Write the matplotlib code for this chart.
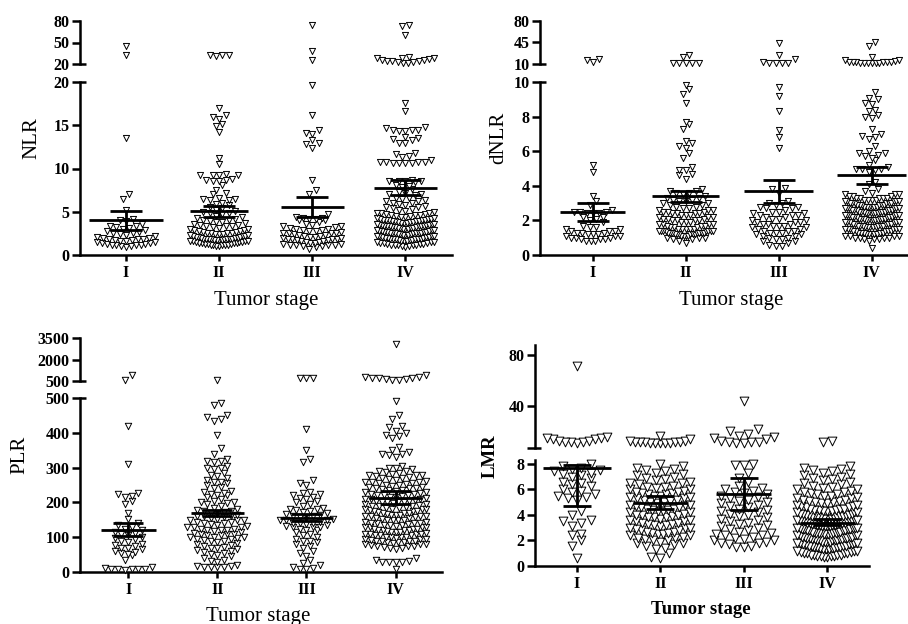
import matplotlib
matplotlib.use('Agg')
import matplotlib.pyplot as plt
import numpy as np

W, H = 908, 624
plt.rcParams['font.family'] = ['Liberation Serif', 'DejaVu Serif']

stages = ['I', 'II', 'III', 'IV']

# ---------------- NLR ----------------
nlr_I = [45, 32, 13.5, 7.0, 6.5, 5.2, 4.2, 4.0, 3.9, 3.6, 3.4, 3.3, 3.2, 3.1, 3.0, 2.9, 2.8, 2.7,
         2.6, 2.5, 2.4, 2.3, 2.2, 2.1, 2.0, 2.0, 1.9, 1.8, 1.8, 1.7, 1.7, 1.6, 1.6, 1.5, 1.5, 1.4,
         1.4, 1.3, 1.3, 1.2, 1.2, 1.1, 1.1, 1.0, 1.0, 0.9]
nlr_II = [33, 32, 32, 31,
          17.0, 16.2, 15.9, 15.7, 15.1, 14.9, 14.2, 11.2, 10.5, 9.4, 9.3, 9.3, 9.2, 9.2, 8.8, 8.7,
          8.7, 8.6, 8.6, 8.1, 7.5, 7.2, 7.1, 6.6, 6.5, 6.5, 6.4, 6.4, 6.0, 5.9, 5.8, 5.6, 5.4, 5.2,
          5.1, 5.0, 4.9, 4.8,
          4.7, 4.5, 4.4, 4.3, 4.2, 4.1, 4.0, 3.9, 3.8, 3.8, 3.7, 3.6, 3.5, 3.5, 3.4, 3.3, 3.3, 3.2,
          3.1, 3.0, 3.0, 2.9, 2.9, 2.8, 2.8, 2.7, 2.7, 2.6, 2.6, 2.5, 2.5, 2.4, 2.4, 2.4, 2.3, 2.3,
          2.2, 2.2, 2.2, 2.1, 2.1, 2.1, 2.0, 2.0, 2.0, 1.9, 1.9, 1.9, 1.9, 1.8, 1.8, 1.8, 1.8, 1.7,
          1.7, 1.7, 1.7, 1.6, 1.6, 1.6, 1.6, 1.5, 1.5, 1.5, 1.4, 1.4, 1.4, 1.4, 1.3, 1.3, 1.3, 1.2,
          1.2, 1.2, 1.1, 1.1, 1.0, 1.0]
nlr_III = [75, 38, 25,
           19.7, 16.2, 14.5, 14.1, 14.0, 13.3, 13.0, 12.8, 12.4, 8.7, 7.5, 7.1,
           4.7, 4.4, 4.3, 4.3, 4.2, 4.2, 4.1, 4.0, 3.8, 3.6, 3.5, 3.4, 3.3, 3.2, 3.1, 3.0, 3.0, 2.9,
           2.9, 2.8, 2.8, 2.7, 2.6, 2.6, 2.5, 2.5, 2.4, 2.3, 2.3, 2.2, 2.2, 2.1, 2.1, 2.0, 2.0, 1.9,
           1.9, 1.8, 1.8, 1.7, 1.7, 1.6, 1.6, 1.5, 1.5, 1.4, 1.4, 1.3, 1.3, 1.2, 1.2, 1.1, 1.1, 1.0,
           1.0, 0.9, 0.7]
nlr_IV = [75, 73, 61, 30, 29, 28.5, 28, 27, 26, 25, 24.5, 24, 23.5, 23, 22.5, 22, 21.5,
          17.6, 16.7, 14.8, 14.7, 14.5, 14.4, 14.4, 14.3, 14.3, 13.6, 13.5, 13.4, 13.3, 13.0, 12.9,
          11.8, 11.7, 11.5, 11.3, 11.0, 10.8, 10.7, 10.7, 10.7, 10.6, 10.6, 10.6, 10.6, 8.7, 8.6,
          8.6, 8.5, 8.5, 8.4, 8.1, 8.0, 7.9, 7.6, 7.3, 7.2, 7.1, 7.0, 6.9, 6.6, 6.6, 6.5, 6.4, 6.3,
          6.2, 6.0, 6.0, 5.9, 5.8, 5.7, 5.6, 5.5, 5.4, 5.3, 5.2, 5.1,
          5.0, 4.9, 4.8, 4.8, 4.7, 4.7, 4.6, 4.6, 4.5, 4.5, 4.4, 4.4, 4.3, 4.3, 4.2, 4.2, 4.1, 4.1,
          4.0, 4.0, 4.0, 3.9, 3.9, 3.9, 3.8, 3.8, 3.8, 3.7, 3.7, 3.7, 3.6, 3.6, 3.6, 3.5, 3.5, 3.5,
          3.4, 3.4, 3.4, 3.3, 3.3, 3.3, 3.2, 3.2, 3.2, 3.1, 3.1, 3.1, 3.0, 3.0, 3.0, 2.9, 2.9, 2.9,
          2.8, 2.8, 2.8, 2.7, 2.7, 2.7, 2.6, 2.6, 2.6, 2.5, 2.5, 2.5, 2.4, 2.4, 2.4, 2.3, 2.3, 2.3,
          2.2, 2.2, 2.2, 2.1, 2.1, 2.1, 2.0, 2.0, 2.0, 1.9, 1.9, 1.9, 1.8, 1.8, 1.8, 1.7, 1.7, 1.7,
          1.6, 1.6, 1.6, 1.5, 1.5, 1.5, 1.4, 1.4, 1.4, 1.3, 1.3, 1.3, 1.2, 1.2, 1.2, 1.1, 1.1, 1.0,
          1.0, 0.9, 2.5, 2.7, 3.1, 3.5, 3.9, 4.2, 4.6, 2.2]
nlr_mean = [4.0, 5.05, 5.55, 7.8]
nlr_lo = [2.9, 4.4, 4.35, 6.9]
nlr_hi = [5.1, 5.65, 6.7, 8.65]

# ---------------- dNLR ----------------
dnlr_I = [18, 16, 13,
          5.2, 4.8, 3.4, 3.1, 2.9, 2.6, 2.5, 2.5, 2.5, 2.4, 2.4, 2.4, 2.2, 2.2, 2.1, 2.0, 1.9, 1.7,
          1.6, 1.6, 1.5, 1.5, 1.4, 1.4, 1.4, 1.3, 1.3, 1.3, 1.2, 1.2, 1.2, 1.1, 1.1, 1.1, 1.0, 1.0,
          1.0, 0.9, 0.9, 0.9, 0.8, 0.8, 0.8]
dnlr_II = [24, 21, 12, 12, 11, 11, 11,
           9.8, 9.6, 9.3, 8.8, 7.7, 7.6, 7.3, 6.6, 6.5, 6.3, 6.2, 5.9, 5.6, 5.1, 4.9, 4.9, 4.7, 4.6,
           4.4, 3.8, 3.7, 3.7, 3.6, 3.6, 3.5,
           3.4, 3.3, 3.3, 3.2, 3.2, 3.1, 3.1, 3.0, 3.0, 2.9, 2.9, 2.8, 2.8, 2.7, 2.7, 2.6, 2.6, 2.6,
           2.5, 2.5, 2.5, 2.4, 2.4, 2.4, 2.3, 2.3, 2.3, 2.2, 2.2, 2.2, 2.1, 2.1, 2.1, 2.0, 2.0, 2.0,
           1.9, 1.9, 1.9, 1.8, 1.8, 1.8, 1.7, 1.7, 1.7, 1.6, 1.6, 1.6, 1.5, 1.5, 1.5, 1.5, 1.4, 1.4,
           1.4, 1.4, 1.4, 1.4, 1.3, 1.3, 1.3, 1.3, 1.3, 1.3, 1.2, 1.2, 1.2, 1.2, 1.2, 1.1, 1.1, 1.1,
           1.1, 1.0, 1.0, 1.0, 0.9, 0.9, 0.8, 0.7, 1.4, 1.4, 1.3, 1.5, 2.0, 2.4, 1.8, 1.2]
dnlr_III = [44, 24, 18, 13, 12, 12, 11, 11,
            9.7, 9.2, 8.3, 7.2, 6.8, 6.2, 3.9, 3.8, 3.6, 3.1, 3.0, 3.0,
            2.9, 2.8, 2.8, 2.7, 2.7, 2.6, 2.5, 2.5, 2.4, 2.4, 2.3, 2.3, 2.2, 2.2, 2.1, 2.1, 2.0,
            2.0, 1.9, 1.9, 1.8, 1.8, 1.8, 1.7, 1.7, 1.7, 1.6, 1.6, 1.5, 1.5, 1.4, 1.4, 1.3, 1.3,
            1.3, 1.2, 1.2, 1.1, 1.1, 1.0, 1.0, 0.9, 0.9, 0.8, 0.8, 0.7, 0.6, 0.5, 0.5, 1.9, 2.3, 1.4]
dnlr_IV = [46, 39, 22, 17, 16, 15, 14, 14, 13, 13, 13, 13, 12, 12, 12, 12, 11, 11,
           9.4, 9.1, 9.0, 8.8, 8.7, 8.4, 8.3, 8.1, 8.0, 7.9, 7.3, 7.0, 6.9, 6.8, 6.7, 6.3, 6.0,
           5.9, 5.9, 5.8, 5.7, 5.6, 5.5, 5.2, 5.1, 5.0, 5.0, 5.0, 4.9, 4.8, 4.2, 4.1, 3.8, 3.7, 3.6,
           3.5, 3.5, 3.4, 3.4, 3.4, 3.3, 3.3, 3.3, 3.2, 3.2, 3.2, 3.1, 3.1, 3.1, 3.0, 3.0, 3.0, 3.0,
           2.9, 2.9, 2.9, 2.9, 2.8, 2.8, 2.8, 2.8, 2.7, 2.7, 2.7, 2.7, 2.6, 2.6, 2.6, 2.6, 2.5, 2.5,
           2.5, 2.5, 2.4, 2.4, 2.4, 2.4, 2.3, 2.3, 2.3, 2.3, 2.2, 2.2, 2.2, 2.2, 2.1, 2.1, 2.1, 2.1,
           2.0, 2.0, 2.0, 2.0, 1.9, 1.9, 1.9, 1.9, 1.8, 1.8, 1.8, 1.8, 1.7, 1.7, 1.7, 1.7, 1.6, 1.6,
           1.6, 1.6, 1.5, 1.5, 1.5, 1.5, 1.4, 1.4, 1.4, 1.4, 1.3, 1.3, 1.3, 1.3, 1.2, 1.2, 1.2, 1.2,
           1.1, 1.1, 1.1, 1.1, 1.0, 1.0, 1.0, 1.0, 0.9, 0.9, 0.9, 0.8, 0.4, 2.0, 2.2, 2.4, 2.6, 2.8,
           3.0, 3.2, 1.5, 1.7, 1.9, 2.1, 2.3, 2.5, 2.7, 2.9, 3.1, 3.3, 1.2, 1.4, 1.6, 1.8, 2.0, 2.2,
           2.4, 2.6, 2.8, 3.0, 1.3, 1.5, 1.7, 1.9, 2.1, 2.3, 2.5, 2.7, 2.9, 3.1, 3.3, 3.5]
dnlr_mean = [2.48, 3.42, 3.72, 4.6]
dnlr_lo = [1.96, 3.04, 3.03, 4.13]
dnlr_hi = [2.98, 3.72, 4.36, 5.08]

# ---------------- PLR ----------------
plr_I = [900, 560,
         420, 310, 228, 225, 218, 215, 205, 195, 170, 152, 140, 135, 130, 125, 120, 115, 112, 108,
         105, 100, 98, 95, 90, 85, 80, 78, 75, 70, 68, 65, 60, 57, 55, 52, 50, 35, 15, 12, 10, 9,
         9, 8, 8, 7]
plr_II = [550,
          485, 480, 450, 445, 440, 435, 395, 355, 340, 325, 320, 318, 315, 305, 300, 298, 295, 285,
          280, 275, 270, 265, 260, 258, 255, 250, 245, 240, 232, 230, 228, 225, 222, 220, 215, 210,
          205, 200, 198, 195, 190, 185, 180, 178, 175, 172, 170, 168, 165, 162, 160, 158, 155, 152,
          150, 148, 145, 142, 140, 138, 135, 132, 130, 128, 125, 122, 120, 118, 115, 112, 110, 108,
          105, 102, 100, 98, 95, 92, 90, 88, 85, 82, 80, 78, 75, 72, 70, 68, 65, 62, 60, 58, 55, 52,
          50, 45, 40, 35, 32, 30, 20, 18, 16, 15, 15, 14, 15, 150, 125, 110, 105, 130, 160, 100,
          175, 145, 120, 95, 200]
plr_III = [700, 690, 700,
           410, 350, 325, 315, 265, 255, 250, 230, 228, 225, 220, 215, 212, 210, 205, 200, 195, 190,
           185, 182, 180, 178, 175, 172, 170, 168, 165, 162, 160, 158, 155, 152, 150, 148, 145, 142,
           140, 138, 135, 132, 130, 128, 125, 122, 120, 115, 110, 105, 100, 95, 90, 88, 85, 80, 75,
           70, 60, 55, 45, 35, 25, 20, 15, 12, 10, 8, 150, 140, 130]
plr_IV = [3100, 950, 760, 720, 680, 640, 600, 600, 620, 700, 780,
          490, 450, 440, 420, 418, 405, 400, 395, 390, 385, 360, 350, 345, 340, 338, 335, 330, 305,
          300, 295, 290, 288, 285, 282, 280, 278, 275, 272, 270, 268, 265, 262, 260, 258, 255, 252,
          250, 248, 245, 242, 240, 238, 235, 232, 230, 228, 225, 222, 220, 218, 215, 212, 210, 208,
          205, 202, 200, 198, 195, 192, 190, 188, 185, 182, 180, 178, 175, 172, 170, 168, 165, 162,
          160, 158, 155, 152, 150, 148, 145, 142, 140, 138, 135, 132, 130, 128, 125, 122, 120, 118,
          115, 112, 110, 108, 105, 102, 100, 98, 95, 92, 90, 88, 85, 82, 80, 78, 75, 72, 70, 68,
          65, 140, 130, 120, 110, 100, 90, 80, 150, 160, 170, 180, 190, 200, 210, 220, 230, 240,
          250, 260, 135, 125, 115, 105, 95, 85, 75, 145, 155, 165, 175, 185, 195, 205, 215, 225,
          235, 245, 255, 270, 280, 290, 300, 100, 110, 120, 130, 80, 90, 75, 40, 35, 32, 30, 30,
          28, 30, 8, 140, 125, 105, 95, 85, 150, 160, 170, 180, 115, 135, 200, 210, 190, 175, 165]
plr_mean = [122, 170, 156, 214]
plr_lo = [103, 161, 146, 196]
plr_hi = [142, 178, 167, 234]

# ---------------- LMR ----------------
lmr_I = [72, 16, 15, 15, 14, 14, 13, 13, 12, 12, 12, 11,
         8.0, 7.8, 7.7, 7.6, 7.4, 7.3, 7.2, 7.0, 6.9, 6.6, 6.5, 6.4, 6.3, 6.0, 5.9, 5.8, 5.6, 5.5,
         5.4, 5.3, 5.2, 4.3, 4.0, 3.6, 3.5, 3.4, 3.1, 2.5, 2.4, 2.0, 1.6, 0.6, 7.5, 7.1]
lmr_II = [17, 14, 13, 13, 12, 12, 12, 12, 12, 11, 11, 11, 11, 11,
          8.0, 7.8, 7.7, 7.6, 7.5, 7.4, 7.3, 7.2, 7.1, 7.0, 6.9, 6.8, 6.7, 6.6, 6.5, 6.4, 6.3, 6.2,
          6.1, 6.0, 6.0, 5.9, 5.8, 5.8, 5.7, 5.6, 5.6, 5.5, 5.4, 5.4, 5.3, 5.2, 5.2, 5.1, 5.0, 5.0,
          4.9, 4.8, 4.8, 4.7, 4.6, 4.6, 4.5, 4.4, 4.4, 4.3, 4.2, 4.2, 4.1, 4.0, 4.0, 3.9, 3.8, 3.8,
          3.7, 3.6, 3.6, 3.5, 3.4, 3.4, 3.3, 3.2, 3.2, 3.1, 3.0, 3.0, 2.9, 2.8, 2.8, 2.7, 2.6, 2.6,
          2.5, 2.4, 2.4, 2.3, 2.2, 2.2, 2.1, 2.0, 2.0, 1.9, 1.8, 1.8, 1.7, 1.6, 1.4, 1.3, 1.0, 0.6,
          0.7, 3.5, 4.5, 5.5, 6.5, 2.5, 3.8, 4.8, 5.3, 6.2, 3.0, 4.0, 2.7, 5.7, 4.3, 3.3]
lmr_III = [44, 22, 21, 18, 17, 16, 15, 14, 13, 12, 12, 12, 11, 11,
           8.0, 7.9, 7.9, 7.3, 6.9, 6.6, 6.3, 6.1, 6.0, 5.9, 5.8, 5.7, 5.6, 5.5, 5.4, 5.3, 5.2, 5.1,
           5.0, 4.9, 4.8, 4.7, 4.6, 4.5, 4.4, 4.3, 4.2, 4.1, 4.0, 3.9, 3.8, 3.7, 3.6, 3.5, 3.4, 3.3,
           3.2, 3.1, 3.0, 2.9, 2.8, 2.7, 2.6, 2.5, 2.4, 2.4, 2.3, 2.2, 2.1, 2.0, 2.0, 1.9, 1.8, 1.8,
           1.7, 1.6, 1.5, 1.5]
lmr_IV = [13, 12,
          7.8, 7.7, 7.6, 7.5, 7.4, 7.2, 7.0, 6.9, 6.8, 6.6, 6.5, 6.3, 6.2, 6.0, 5.9, 5.8, 5.7, 5.6,
          5.5, 5.4, 5.3, 5.2, 5.1, 5.0, 4.9, 4.8, 4.7, 4.6, 4.5, 4.5, 4.4, 4.4, 4.3, 4.3, 4.2, 4.2,
          4.1, 4.1, 4.0, 4.0, 3.9, 3.9, 3.9, 3.8, 3.8, 3.8, 3.7, 3.7, 3.7, 3.6, 3.6, 3.6, 3.5, 3.5,
          3.5, 3.4, 3.4, 3.4, 3.3, 3.3, 3.3, 3.2, 3.2, 3.2, 3.1, 3.1, 3.1, 3.0, 3.0, 3.0, 2.9, 2.9,
          2.9, 2.8, 2.8, 2.8, 2.7, 2.7, 2.7, 2.6, 2.6, 2.6, 2.5, 2.5, 2.5, 2.4, 2.4, 2.4, 2.3, 2.3,
          2.3, 2.2, 2.2, 2.2, 2.1, 2.1, 2.1, 2.0, 2.0, 2.0, 1.9, 1.9, 1.9, 1.8, 1.8, 1.8, 1.7, 1.7,
          1.7, 1.6, 1.6, 1.6, 1.5, 1.5, 1.5, 1.4, 1.4, 1.3, 1.3, 1.2, 1.2, 1.1, 1.1, 1.0, 1.0, 0.9,
          0.9, 0.8, 0.8, 0.8, 0.7, 0.7, 0.8, 0.9, 1.0, 5.5, 5.0, 4.5, 4.0, 3.5, 3.0, 2.5, 2.0, 1.5,
          5.8, 4.8, 3.8, 2.8, 1.8, 4.2, 3.2, 2.2, 1.2, 6.0, 5.2, 4.6, 3.6, 2.6, 4.9, 3.9, 2.9, 1.9,
          4.3, 3.3, 2.3, 1.3, 5.6, 4.7, 3.7, 2.7, 1.7, 7.3, 6.7, 6.4, 6.1, 5.3, 4.4, 3.4, 2.4, 1.4,
          3.1, 2.1, 4.1, 3.6, 2.6, 1.6, 0.9, 5.1, 4.0, 3.0, 2.0, 1.0, 7.1]
lmr_mean = [7.64, 4.93, 5.61, 3.40]
lmr_lo = [4.68, 4.49, 4.41, 3.20]
lmr_hi = [7.90, 5.46, 6.90, 3.66]

# ---------------- layout ----------------
fig = plt.figure(figsize=(W / 100, H / 100), dpi=100)


def rect(x0, x1, ytop, ybot):
    return [x0 / W, 1 - ybot / H, (x1 - x0) / W, (ybot - ytop) / H]


def swarm(vals, h_px, vlo, vhi, w_px, xlo, xhi, ms_px, maxhalf):
    v = np.sort(np.asarray(vals, float))
    if len(v) == 0:
        return np.array([]), np.array([])
    ppy = h_px / (vhi - vlo)
    ppx = w_px / (xhi - xlo)
    row_h = 0.85 * ms_px / ppy
    rows, cur = [], [v[0]]
    for y in v[1:]:
        if y - cur[0] < row_h:
            cur.append(y)
        else:
            rows.append(cur)
            cur = [y]
    rows.append(cur)
    step0 = 1.05 * ms_px / ppx
    xs, ys = [], []
    for r in rows:
        n = len(r)
        step = step0 if n == 1 else min(step0, 2 * maxhalf / (n - 1))
        offs = (np.arange(n) - (n - 1) / 2) * step
        order = np.argsort(np.abs(offs), kind='stable')
        for yi, k in zip(r, order):
            xs.append(offs[k])
            ys.append(yi)
    return np.array(xs), np.array(ys)


panels = [
    dict(groups=[nlr_I, nlr_II, nlr_III, nlr_IV], mean=nlr_mean, lo=nlr_lo, hi=nlr_hi,
         x0=80, x1=452, xlim=(-0.495, 3.5), top=(21, 64, 20, 80), bot=(82, 255, 0, 20),
         tticks=[20, 50, 80], tlabels=['20', '50', '80'], bticks=[0, 5, 10, 15, 20],
         bcross=True, ms=4.4, meanhalf=[0.4, 0.31, 0.34, 0.34], caphalf=0.17, maxhalf=0.31,
         ylabel='NLR', ylab=(32, 138), xlab=(266, 300), bold=False, lsize=15),
    dict(groups=[dnlr_I, dnlr_II, dnlr_III, dnlr_IV], mean=dnlr_mean, lo=dnlr_lo, hi=dnlr_hi,
         x0=540, x1=908, xlim=(-0.57, 3.39), top=(21, 64, 10, 80), bot=(82, 255, 0, 10),
         tticks=[10, 45, 80], tlabels=['10', '45', '80'], bticks=[0, 2, 4, 6, 8, 10],
         bcross=True, ms=4.4, meanhalf=[0.35, 0.36, 0.37, 0.37], caphalf=0.17, maxhalf=0.29,
         ylabel='dNLR', ylab=(499, 138), xlab=(731, 300), bold=False, lsize=15),
    dict(groups=[plr_I, plr_II, plr_III, plr_IV], mean=plr_mean, lo=plr_lo, hi=plr_hi,
         x0=80, x1=442, xlim=(-0.54, 3.52), top=(338, 381, 500, 3500), bot=(398, 572, 0, 500),
         tticks=[500, 2000, 3500], tlabels=['500', '2000', '3500'], bticks=[0, 100, 200, 300, 400, 500],
         bcross=True, ms=4.6, meanhalf=[0.31, 0.30, 0.30, 0.30], caphalf=0.17, maxhalf=0.34,
         ylabel='PLR', ylab=(20, 455), xlab=(258, 616), bold=False, lsize=15),
    dict(groups=[lmr_I, lmr_II, lmr_III, lmr_IV], mean=lmr_mean, lo=lmr_lo, hi=lmr_hi,
         x0=535, x1=869, xlim=(-0.5, 3.5), top=(345, 448, 7.3, 88.2), bot=(460, 566, 0, 8.3),
         tticks=[7.3, 40, 80], tlabels=['', '40', '80'], bticks=[0, 2, 4, 6, 8],
         bcross=False, ms=6.3, meanhalf=[0.41, 0.33, 0.33, 0.33], caphalf=0.17, maxhalf=0.36,
         ylabel='LMR', ylab=(490, 456), xlab=(701, 609), bold=True, lsize=13.5),
]

LW = 1.8
for p in panels:
    ty0, ty1, tv0, tv1 = p['top']
    by0, by1, bv0, bv1 = p['bot']
    axt = fig.add_axes(rect(p['x0'], p['x1'], ty0, ty1))
    axb = fig.add_axes(rect(p['x0'], p['x1'], by0, by1))
    w_px = p['x1'] - p['x0']
    ms_px = p['ms'] * 100 / 72
    for ax, (y0, y1, v0, v1) in ((axt, p['top']), (axb, p['bot'])):
        ax.set_xlim(*p['xlim'])
        ax.set_ylim(v0, v1)
        ax.patch.set_visible(False)
        for s in ('top', 'right'):
            ax.spines[s].set_visible(False)
        ax.spines['left'].set_linewidth(LW)
        ax.spines['bottom'].set_linewidth(LW)
        ax.tick_params(axis='y', direction='out', length=6, width=LW, pad=1.5)
        ax.tick_params(axis='x', direction='out', length=4.5, width=LW, pad=3)
        for i, g in enumerate(p['groups']):
            sel = [v for v in g if (v > bv1 if ax is axt else v <= bv1)]
            xs, ys = swarm(sel, y1 - y0, v0, v1, w_px, p['xlim'][0], p['xlim'][1],
                           ms_px, p['maxhalf'])
            ax.scatter(i + xs, ys, s=p['ms'] ** 2, marker='v', facecolors='white',
                       edgecolors='black', linewidths=0.7, clip_on=False, zorder=3)
    # top segment axis
    axt.spines['bottom'].set_visible(False)
    axt.set_xticks([])
    axt.set_yticks(p['tticks'], p['tlabels'], fontweight='bold', fontsize=11.5)
    axt.plot([0, 6 / w_px], [tv0, tv0], transform=axt.get_yaxis_transform(),
             color='black', lw=LW, clip_on=False, solid_capstyle='butt')
    # bottom segment axis
    axb.set_yticks(p['bticks'], [str(t) for t in p['bticks']], fontweight='bold', fontsize=11.5)
    axb.set_xticks(range(4), stages, fontweight='bold', fontsize=11.5)
    if p['bcross']:
        axb.plot([0, 6 / w_px], [bv1, bv1], transform=axb.get_yaxis_transform(),
                 color='black', lw=LW, clip_on=False, solid_capstyle='butt')
    for i in range(4):
        mh = p['meanhalf'][i]
        axb.hlines(p['mean'][i], i - mh, i + mh, color='black', lw=2, zorder=5)
        axb.vlines(i, p['lo'][i], p['hi'][i], color='black', lw=2, zorder=5)
        axb.hlines([p['lo'][i], p['hi'][i]], i - p['caphalf'], i + p['caphalf'],
                   color='black', lw=2, zorder=5)
    fw = 'bold' if p['bold'] else 'normal'
    fig.text(p['ylab'][0] / W, 1 - p['ylab'][1] / H, p['ylabel'], rotation=90,
             ha='center', va='center', fontsize=p['lsize'], fontweight=fw)
    fig.text(p['xlab'][0] / W, 1 - p['xlab'][1] / H, 'Tumor stage',
             ha='center', va='center', fontsize=p['lsize'], fontweight=fw)

fig.savefig('out.png', dpi=100)
